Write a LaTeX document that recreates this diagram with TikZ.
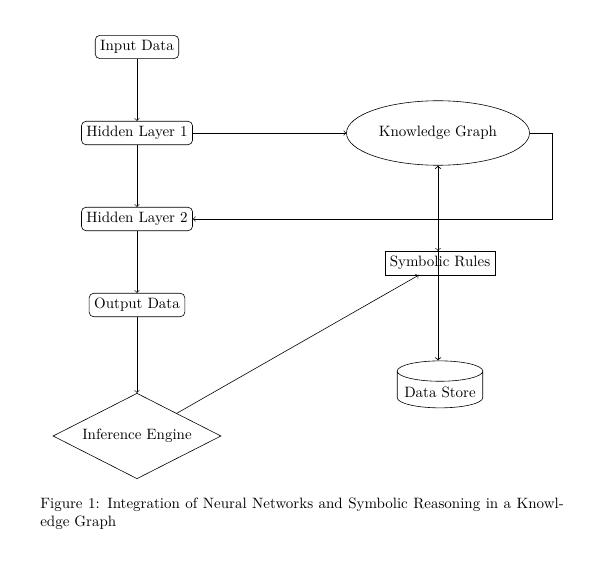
\documentclass[tikz,border=0pt]{standalone}
\usetikzlibrary{shapes.geometric}
\begin{document}
\begin{tikzpicture}[x=0.6667pt,y=-0.6667pt,
  roundbox/.style={draw, rounded corners=3pt, inner sep=3.33pt},
  plainbox/.style={draw, inner sep=3.33pt},
  decision/.style={draw, diamond, aspect=2, minimum width=112pt, minimum height=57pt, inner sep=0pt},
  kgell/.style={draw, ellipse, minimum width=122pt, minimum height=43pt},
  store/.style={draw, cylinder, shape border rotate=90, aspect=0.25, minimum width=57pt, minimum height=30pt},
  conn/.style={->}]
\useasboundingbox (0,0) rectangle (609,561);
\node[roundbox] (input) at (137,47) {Input Data};
\node[roundbox] (h1) at (137,133) {Hidden Layer 1};
\node[roundbox] (h2) at (137,219) {Hidden Layer 2};
\node[roundbox] (out) at (137,305) {Output Data};
\node[decision] (inf) at (137,436) {Inference Engine};
\node[kgell] (kg) at (438,133) {Knowledge Graph};
\node[plainbox] (rules) at (440,263) {Symbolic Rules};
\node[store] (ds) at (440,392) {Data Store};
\coordinate (c1) at (552,133);
\coordinate (c2) at (552,219);
\draw[conn] (input) -- (h1);
\draw[conn] (h1) -- (h2);
\draw[conn] (h2) -- (out);
\draw[conn] (out) -- (inf);
\draw[conn] (h1) -- (kg);
\draw[conn] (kg.east) -- (c1) -- (c2) -- (h2.east);
\draw[conn] (inf) -- (rules);
\draw[conn] (kg.south) -- (kg.south |- rules.north);
\draw[<->, semithick] (kg.south) -- (kg.south |- ds.top);
\node[anchor=north west, text width=349pt, align=justify, inner sep=0pt] (cap) at (40,498) {Figure 1: Integration of Neural Networks and Symbolic Reasoning in a Knowledge Graph};
\end{tikzpicture}
\end{document}
